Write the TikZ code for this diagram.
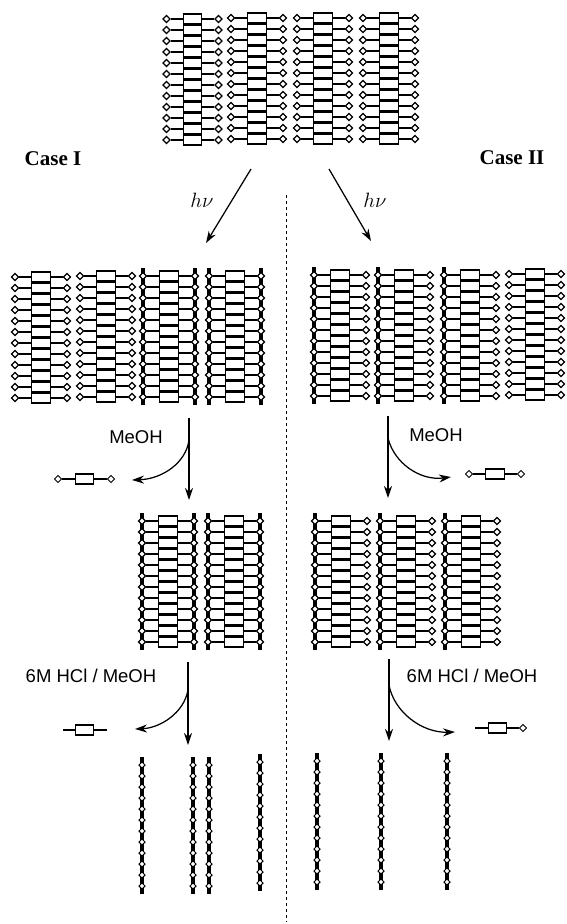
\documentclass[tikz,border=0pt]{standalone}
\usepackage{fontspec}
\setmainfont{Liberation Serif}
\setsansfont{Liberation Sans}
\usetikzlibrary{arrows.meta, positioning, shapes.geometric}

\newcommand{\monolayer}[3]{%
  \foreach \i in {0,...,11} {
    \node[endcap] (#1l\i) at ({#2-26},{#3+11*\i}) {};
    \node[endcap] (#1r\i) at ({#2+26},{#3+11*\i}) {};
    \node[unit] (#1m\i) at (#2,{#3+11*\i}) {};
    \draw[tether] (#1l\i) -- (#1m\i);
    \draw[tether] (#1m\i) -- (#1r\i);
  }
}
\newcommand{\rail}[3]{%
  \coordinate (#1t) at (#2,{#3-8});
  \coordinate (#1b) at (#2,{#3+121+8});
  \draw[backbone] (#1t) -- (#1b);
}
\newcommand{\chain}[3]{%
  \rail{#1}{#2}{#3}
  \foreach \i in {0,...,11}
    \node[bead] (#1c\i) at (#2,{#3+11*\i}) {};
}

\begin{document}
\begin{tikzpicture}[x=1pt, y=-1pt, >={Stealth[length=12pt,width=8pt]},
      endcap/.style={draw, diamond, fill=white, line width=1.2pt, minimum size=7.5pt, inner sep=0pt},
      bead/.style={draw, diamond, fill=white, line width=1pt, minimum size=6.5pt, inner sep=0pt},
      unit/.style={draw, fill=white, line width=1.4pt, minimum width=18.5pt, minimum height=10pt, inner sep=0pt},
      freecap/.style={endcap, line width=0.9pt},
      freeunit/.style={unit, line width=1.1pt},
      tether/.style={line width=1.2pt},
      backbone/.style={line width=4pt},
      reaction/.style={line width=1.25pt, ->},
      caselbl/.style={font=\fontsize{21}{23}\selectfont\bfseries},
      hvlbl/.style={font=\fontsize{20}{22}\selectfont},
      reagent/.style={font=\fontsize{18.5}{20}\sffamily}]

    \useasboundingbox (0,0) rectangle (566,924);

    % Labels
    \node[caselbl] (caseI) at (53,159) {Case I};
    \node[caselbl] (caseII) at (512,158) {Case II};

    % Starting bilayer
    \monolayer{a}{192.5}{19}
    \monolayer{b}{257}{18}
    \monolayer{c}{323}{18}
    \monolayer{d}{389}{18}

    % Divider
    \coordinate (divtop) at (286,195);
    \coordinate (divbot) at (286,922);
    \draw[dashed, line width=0.9pt] (divtop) -- (divbot);

    % hv arrows
    \coordinate (hvLs) at (251,169);
    \coordinate (hvLe) at (206,243);
    \coordinate (hvRs) at (329,169);
    \coordinate (hvRe) at (371,241);
    \draw[reaction] (hvLs) -- (hvLe);
    \draw[reaction] (hvRs) -- (hvRe);
    \node[hvlbl] (hvL) at (202,200) {$h\nu$};
    \node[hvlbl] (hvR) at (375,200) {$h\nu$};

    % Case I, after irradiation
    \rail{f}{143}{276}
    \rail{g}{195}{276}
    \rail{h}{209}{276}
    \rail{j}{261}{276}
    \monolayer{e}{41}{277}
    \monolayer{i}{106}{276}
    \monolayer{k}{169}{276}
    \monolayer{l}{235}{276}

    % Case II, after irradiation
    \rail{m}{314}{275}
    \rail{n}{378}{275}
    \rail{o}{444}{275}
    \monolayer{p}{340}{275}
    \monolayer{q}{404}{275}
    \monolayer{r}{470}{275}
    \monolayer{s}{535}{274}

    % MeOH wash
    \coordinate (wLs) at (189,418);
    \coordinate (wLe) at (189,500);
    \coordinate (wLb) at (189,440);
    \coordinate (wLo) at (132,480);
    \draw[reaction] (wLs) -- (wLe);
    \draw[reaction] (wLb) .. controls (186,463) and (162,479) .. (wLo);
    \node[reagent] (meohL) at (136,437) {MeOH};
    \node[freecap] (wLl) at (58,479) {};
    \node[freecap] (wLr) at (111,479) {};
    \node[freeunit] (wLm) at (84.5,479) {};
    \draw[tether] (wLl) -- (wLm);
    \draw[tether] (wLm) -- (wLr);

    \coordinate (wRs) at (388,416);
    \coordinate (wRe) at (388,498);
    \coordinate (wRb) at (388,438);
    \coordinate (wRo) at (451,477);
    \draw[reaction] (wRs) -- (wRe);
    \draw[reaction] (wRb) .. controls (394,463) and (420,481) .. (wRo);
    \node[reagent] (meohR) at (436,435) {MeOH};
    \node[freecap] (wRl) at (469,474) {};
    \node[freecap] (wRr) at (521,474) {};
    \node[freeunit] (wRm) at (495,474) {};
    \draw[tether] (wRl) -- (wRm);
    \draw[tether] (wRm) -- (wRr);

    % Case I, rinsed
    \rail{t}{142}{521}
    \rail{u}{194}{521}
    \rail{v}{208}{521}
    \rail{w}{260}{521}
    \monolayer{x}{168}{521}
    \monolayer{y}{234}{521}

    % Case II, rinsed
    \rail{z}{315}{521}
    \rail{aa}{380}{521}
    \rail{ab}{445}{521}
    \monolayer{ac}{341}{521}
    \monolayer{ad}{406}{521}
    \monolayer{ae}{471}{521}

    % HCl step
    \coordinate (cLs) at (188,662);
    \coordinate (cLe) at (188,745);
    \coordinate (cLb) at (188,690);
    \coordinate (cLo) at (135,729);
    \draw[reaction] (cLs) -- (cLe);
    \draw[reaction] (cLb) .. controls (184,713) and (160,728) .. (cLo);
    \node[reagent] (hclL) at (91,676) {6M HCl / MeOH};
    \coordinate (cLl) at (63,730);
    \coordinate (cLr) at (107,730);
    \node[freeunit] (cLm) at (84.5,730) {};
    \draw[tether] (cLl) -- (cLm);
    \draw[tether] (cLm) -- (cLr);

    \coordinate (cRs) at (389,659);
    \coordinate (cRe) at (389,741);
    \coordinate (cRb) at (389,685);
    \coordinate (cRo) at (455,732);
    \draw[reaction] (cRs) -- (cRe);
    \draw[reaction] (cRb) .. controls (394,712) and (422,733) .. (cRo);
    \node[reagent] (hclR) at (472,676) {6M HCl / MeOH};
    \coordinate (cRl) at (475,728);
    \node[freecap] (cRr) at (523,728) {};
    \node[freeunit] (cRm) at (497.5,728) {};
    \draw[tether] (cRl) -- (cRm);
    \draw[tether] (cRm) -- (cRr);

    % Bare chains
    \chain{af}{142}{765}
    \chain{ag}{193}{765}
    \chain{ah}{209}{765}
    \chain{ai}{260}{762}
    \chain{aj}{317}{761}
    \chain{ak}{381}{761}
    \chain{al}{447}{761}

\end{tikzpicture}
\end{document}
